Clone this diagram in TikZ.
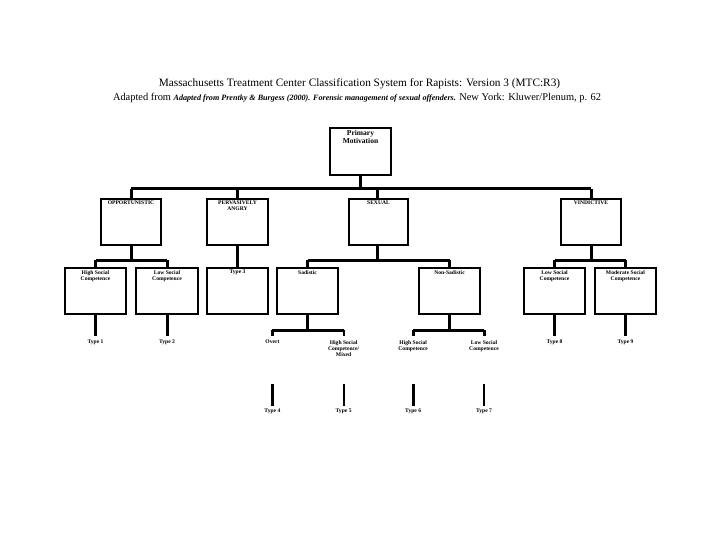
\documentclass[tikz,border=0pt]{standalone}
\usepackage{fontspec}
\setmainfont{Liberation Serif}
\begin{document}
\begin{tikzpicture}[x=1pt,y=-1pt,
  lbl/.style={font=\fontsize{5.6}{6}\selectfont\bfseries,align=center,anchor=north,inner sep=0pt},
  con/.style={line width=3pt},
  thin/.style={line width=2.2pt}]
\useasboundingbox (0,0) rectangle (720,540);
\node[font=\fontsize{11.3}{12}\selectfont] (t1) at (359.5,84) {Massachusetts Treatment Center Classification System for Rapists: Version 3 (MTC:R3)};
\node[font=\fontsize{10.4}{11}\selectfont] (t2) at (357,98) {Adapted from {\fontsize{8.1}{9}\selectfont\itshape\bfseries Adapted from Prentky \& Burgess (2000). Forensic management of sexual offenders.} New York: Kluwer/Plenum, p. 62};
% boxes
\newcommand{\mybox}[6]{\draw[line width=1.4pt] (#2,#3) rectangle (#4,#5); \coordinate (#1t) at ({(#2+#4)/2},#3); \coordinate (#1b) at ({(#2+#4)/2},#5); \node[lbl] (#1l) at ({(#2+#4)/2},#3+2) {#6};}
\mybox{pm}{330}{128}{391}{175}{\fontsize{7.5}{8}\selectfont Primary\\\fontsize{7.5}{8}\selectfont Motivation}
\mybox{op}{101}{199}{161}{245}{OPPORTUNISTIC}
\mybox{pa}{207}{199}{268}{245}{PERVASIVELY\\ANGRY}
\mybox{se}{349}{199}{408}{245}{SEXUAL}
\mybox{vi}{561}{199}{621}{245}{VINDICTIVE}
\mybox{h1}{65}{268}{126}{314}{High Social\\Competence}
\mybox{l1}{136}{268}{198}{314}{Low Social\\Competence}
\mybox{t3}{207}{268}{268}{314}{Type 3}
\mybox{sa}{277}{268}{338}{314}{Sadistic}
\mybox{ns}{419}{268}{480}{314}{Non-Sadistic}
\mybox{lv}{524}{268}{585}{314}{Low Social\\Competence}
\mybox{mv}{595}{268}{656}{314}{Moderate Social\\Competence}
% level 1 connectors
\draw[con] (pmb) -- (360.5,189);
\draw[con] (131,189) -- (591,189);
\foreach \x in {131,237.5,377.6,591} \draw[con] (\x,189) -- (\x,199);
% level 2
\draw[con] (opb) -- (131,260); \draw[con] (95.5,260) -- (167,260);
\draw[con] (95.5,260) -- (95.5,268); \draw[con] (167,260) -- (167,268);
\draw[con] (pab) -- (t3t);
\draw[con] (377.6,245) -- (377.6,260); \draw[con] (307.5,260) -- (449.5,260);
\draw[con] (307.5,260) -- (307.5,268); \draw[con] (449.5,260) -- (449.5,268);
\draw[con] (vib) -- (591,260); \draw[con] (554.5,260) -- (625.5,260);
\draw[con] (554.5,260) -- (554.5,268); \draw[con] (625.5,260) -- (625.5,268);
% bottom
\draw[con] (h1b) -- (95.5,336); \node[lbl] (ty1) at (95.5,340) {Type 1};
\draw[con] (l1b) -- (167,336); \node[lbl] (ty2) at (167,340) {Type 2};
\draw[con] (lvb) -- (554.5,336); \node[lbl] (ty8) at (554.5,340) {Type 8};
\draw[thin] (mvb) -- (625.5,336); \node[lbl] (ty9) at (625.5,340) {Type 9};
\draw[con] (307.5,314) -- (307.5,330); \draw[con] (272.4,330) -- (343.6,330);
\draw[con] (272.4,330) -- (272.4,336); \draw[thin] (343.6,330) -- (343.6,336);
\draw[con] (449.5,314) -- (449.5,330); \draw[con] (413.2,330) -- (484,330);
\draw[con] (413.2,330) -- (413.2,336); \draw[con] (484,330) -- (484,336);
\node[lbl] (ov) at (272.4,340) {Overt};
\node[lbl] (hm) at (343.6,340) {High Social\\Competence/\\Mixed};
\node[lbl] (hs) at (413.2,340) {High Social\\Competence};
\node[lbl] (ls) at (484,340) {Low Social\\Competence};
\draw[con] (272.4,384) -- (272.4,406); \node[lbl] (ty4) at (272.4,409) {Type 4};
\draw[thin] (343.6,384) -- (343.6,406); \node[lbl] (ty5) at (343.6,409) {Type 5};
\draw[con] (413.2,384) -- (413.2,406); \node[lbl] (ty6) at (413.2,409) {Type 6};
\draw[thin] (484,384) -- (484,406); \node[lbl] (ty7) at (484,409) {Type 7};
\end{tikzpicture}
\end{document}
